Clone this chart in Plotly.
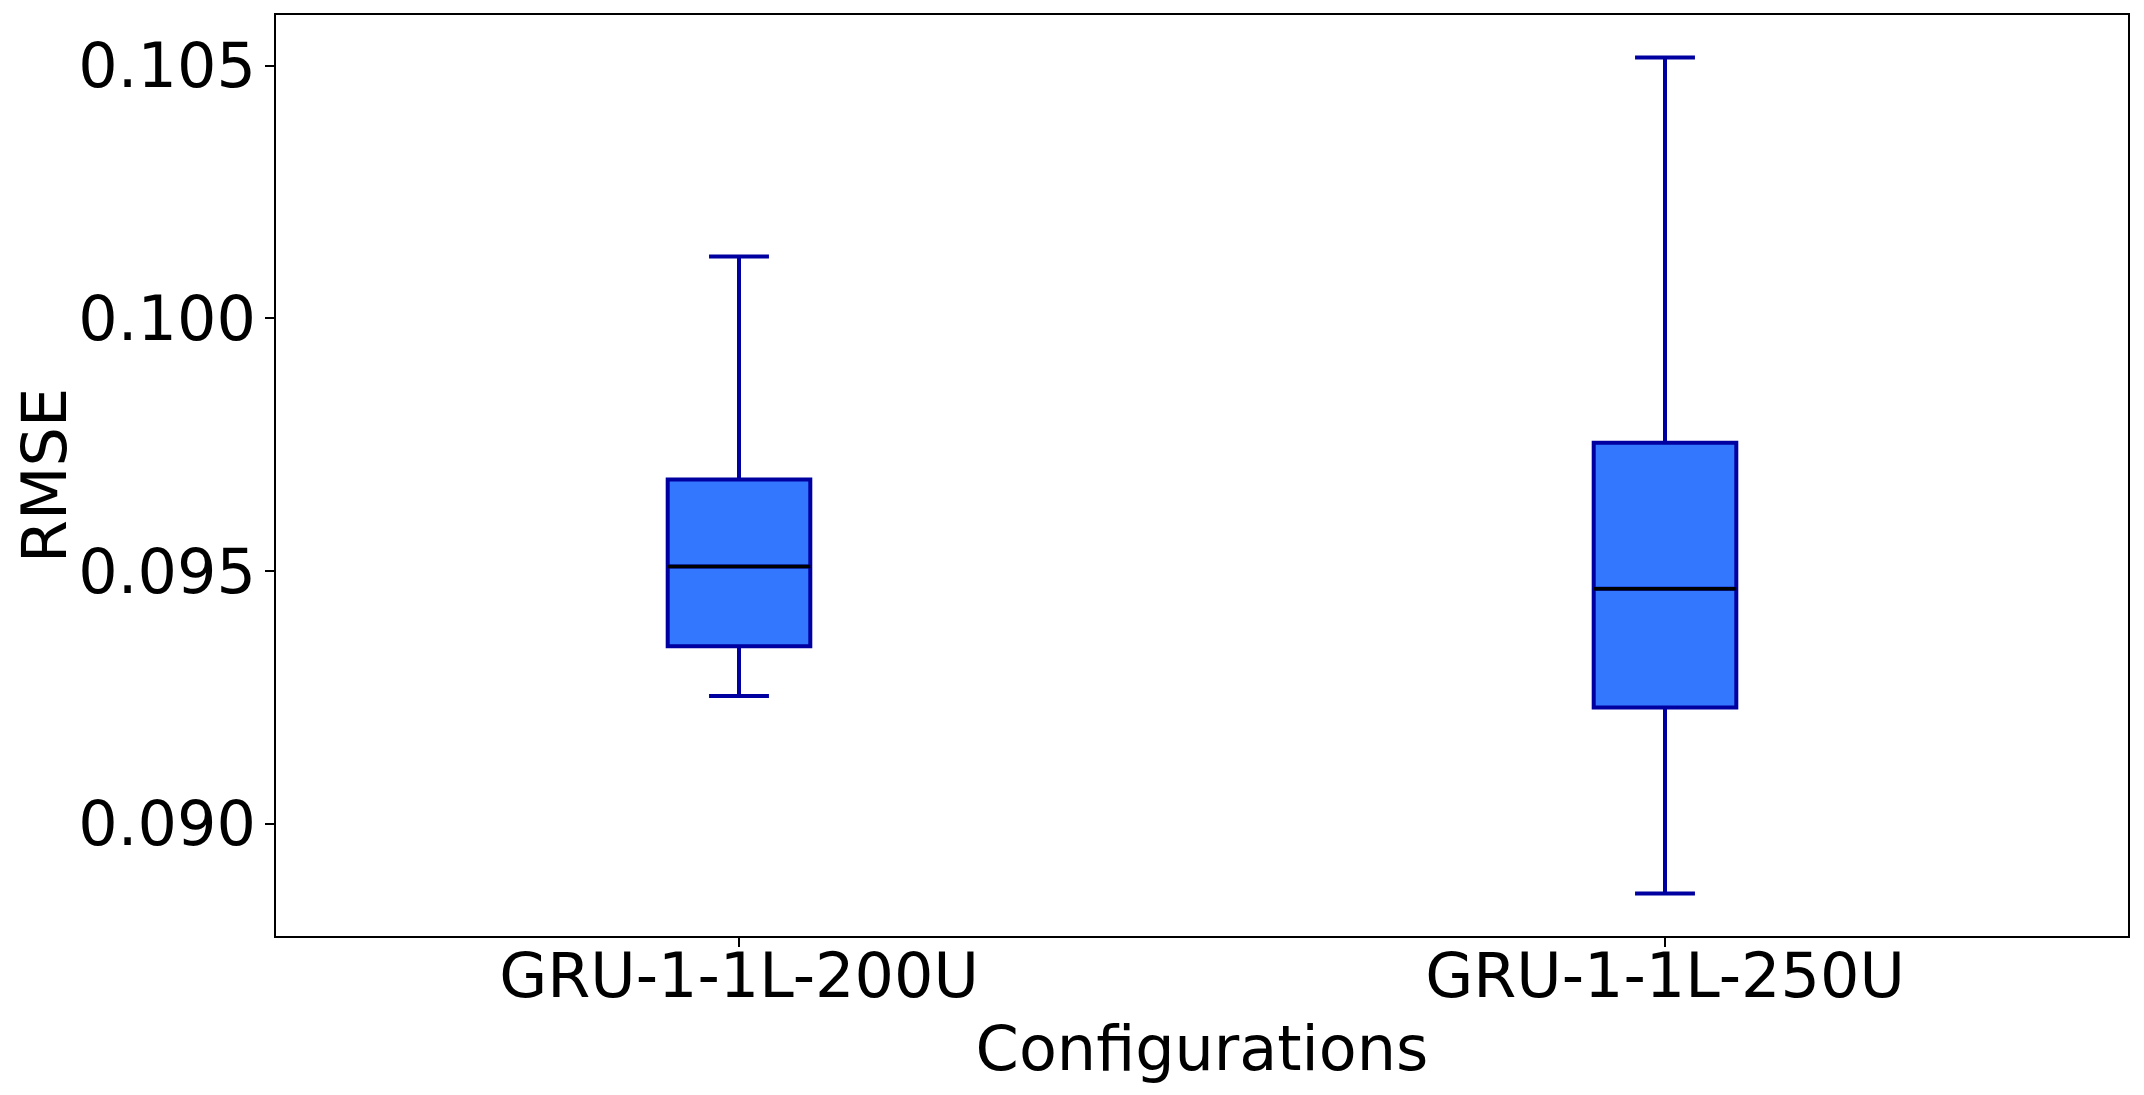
import plotly.graph_objects as go

configs = ["GRU-1-1L-200U", "GRU-1-1L-250U"]
lower_whisker = [0.09253, 0.08862]
q1 = [0.09351, 0.09230]
median = [0.09509, 0.09465]
q3 = [0.09681, 0.09754]
upper_whisker = [0.10122, 0.10516]

box_width = 0.154
pos = list(range(len(configs)))

fig = go.Figure()

fig.add_trace(go.Box(
    x=pos,
    q1=q1,
    median=median,
    q3=q3,
    lowerfence=lower_whisker,
    upperfence=upper_whisker,
    width=box_width,
    whiskerwidth=0.42,
    fillcolor="#3377ff",
    line=dict(color="#0000a0", width=4),
    boxpoints=False,
    showlegend=False,
))

# black median lines drawn over the boxes
for i, m in zip(pos, median):
    fig.add_trace(go.Scatter(
        x=[i - box_width / 2, i + box_width / 2],
        y=[m, m],
        mode="lines",
        line=dict(color="black", width=3.5),
        showlegend=False,
        hoverinfo="skip",
    ))

font = dict(family="DejaVu Sans", size=62, color="black")
axis_style = dict(
    showline=True, linecolor="black", linewidth=1.5, mirror=True,
    ticks="outside", ticklen=9, tickwidth=1.5, tickcolor="black",
    showgrid=False, zeroline=False, automargin=False,
    tickfont=font,
)

fig.update_xaxes(
    **axis_style,
    range=[-0.5, 1.5],
    tickmode="array", tickvals=pos, ticktext=configs,
    ticklabelstandoff=-24,
    title=dict(text="Configurations", font=font, standoff=4),
)
fig.update_yaxes(
    **axis_style,
    range=[0.08778, 0.1060],
    tickvals=[0.090, 0.095, 0.100, 0.105],
    tickformat=".3f",
    ticklabelstandoff=-3,
    title=dict(text="RMSE", font=font, standoff=12),
)

# page body adds an 8px offset, margins account for it
fig.update_layout(
    width=2144, height=1095,
    margin=dict(l=268, r=24, t=7, b=167),
    plot_bgcolor="white", paper_bgcolor="white",
)

fig.write_html("out.html")
